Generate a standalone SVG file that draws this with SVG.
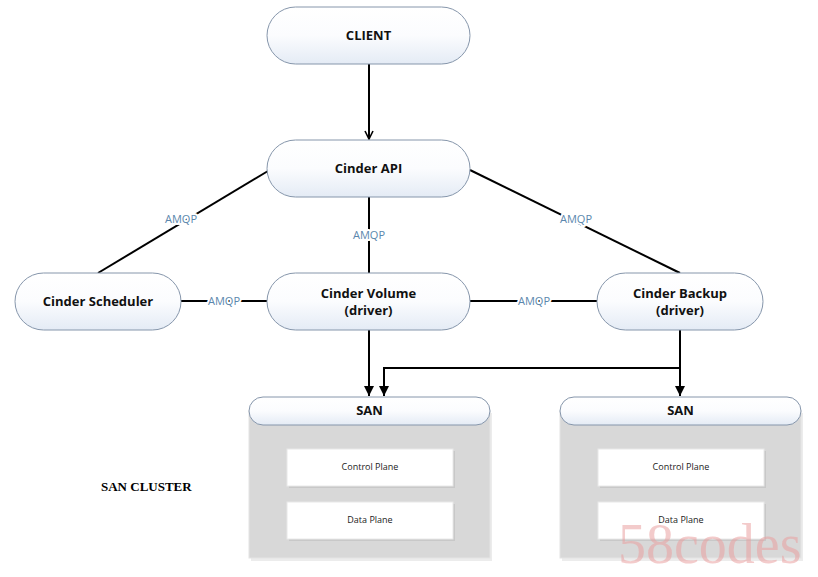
<svg xmlns="http://www.w3.org/2000/svg" width="818" height="577" viewBox="0 0 818 577">
<defs>
<linearGradient id="pill" x1="0" y1="0" x2="0" y2="1">
<stop offset="0" stop-color="#ffffff"/>
<stop offset="0.5" stop-color="#fbfcfe"/>
<stop offset="1" stop-color="#e4ebf5"/>
</linearGradient>
<marker id="arr" viewBox="0 0 10 10" refX="10" refY="5" markerWidth="10" markerHeight="10" markerUnits="userSpaceOnUse" orient="auto">
<path d="M0,0 L10,5 L0,10 z" fill="#000"/>
</marker>
<marker id="open" viewBox="0 0 10 10" refX="9" refY="5" markerWidth="10" markerHeight="10" markerUnits="userSpaceOnUse" orient="auto">
<path d="M1,1 L9,5 L1,9" fill="none" stroke="#000" stroke-width="1.6"/>
</marker>
</defs>
<style>
.node{fill:url(#pill);stroke:#8696ab;stroke-width:1}
.lbl{font-family:"Open Sans","Noto Sans",sans-serif;font-weight:bold;font-size:13px;fill:#111;text-anchor:middle}
.amqp{font-family:"Open Sans","Noto Sans",sans-serif;font-size:11px;fill:#5a87ad;text-anchor:middle;stroke:#fff;stroke-width:4px;paint-order:stroke;stroke-linejoin:round}
.conn{stroke:#000;stroke-width:2;fill:none}
.body{fill:#d8d8d8;stroke:#e4e4e4;stroke-width:1}
.inner{fill:#fff;stroke:#e8e8e8;stroke-width:1}
.small{font-family:"Open Sans","Noto Sans",sans-serif;font-size:9px;fill:#222;text-anchor:middle}
</style>
<rect width="818" height="577" fill="#fff"/>

<g id="connectors">
<line class="conn" x1="369" y1="64" x2="369" y2="139" marker-end="url(#open)"/>
<line class="conn" x1="268" y1="171" x2="98" y2="273"/>
<line class="conn" x1="470" y1="170" x2="680" y2="273"/>
<line class="conn" x1="369" y1="197" x2="369" y2="273"/>
<line class="conn" x1="181" y1="301" x2="267" y2="301"/>
<line class="conn" x1="470" y1="301" x2="597" y2="301"/>
<line class="conn" x1="369" y1="330" x2="369" y2="396" marker-end="url(#arr)"/>
<line class="conn" x1="680" y1="330" x2="680" y2="396" marker-end="url(#arr)"/>
<polyline class="conn" points="680,368 384,368 384,396" marker-end="url(#arr)"/>
<text class="amqp" x="181" y="223">AMQP</text>
<text class="amqp" x="576" y="223">AMQP</text>
<text class="amqp" x="369" y="239">AMQP</text>
<text class="amqp" x="224" y="305">AMQP</text>
<text class="amqp" x="534" y="305">AMQP</text>
</g>

<g id="client">
<rect class="node" x="267" y="7" width="203" height="57" rx="28.5"/>
<text class="lbl" x="368.5" y="40">CLIENT</text>
</g>
<g id="cinder-api">
<rect class="node" x="267" y="140" width="203" height="57" rx="28.5"/>
<text class="lbl" x="368.5" y="173">Cinder API</text>
</g>
<g id="cinder-scheduler">
<rect class="node" x="15" y="273" width="166" height="57" rx="28.5"/>
<text class="lbl" x="98" y="306">Cinder Scheduler</text>
</g>
<g id="cinder-volume">
<rect class="node" x="267" y="273" width="203" height="57" rx="28.5"/>
<text class="lbl" x="368.5" y="298">Cinder Volume</text>
<text class="lbl" x="368.5" y="315">(driver)</text>
</g>
<g id="cinder-backup">
<rect class="node" x="597" y="273" width="166" height="57" rx="28.5"/>
<text class="lbl" x="680" y="298">Cinder Backup</text>
<text class="lbl" x="680" y="315">(driver)</text>
</g>

<g id="san-left">
<rect x="251" y="413" width="241" height="148" fill="#ececec"/>
<rect class="body" x="249" y="411" width="241" height="147"/>
<rect class="node" x="249" y="397" width="241" height="28" rx="14"/>
<text class="lbl" x="369.5" y="415">SAN</text>
<rect x="289" y="451" width="166" height="37" fill="#c8c8c8"/>
<rect class="inner" x="287" y="449" width="166" height="37"/>
<text class="small" x="370" y="470">Control Plane</text>
<rect x="289" y="504" width="166" height="37" fill="#c8c8c8"/>
<rect class="inner" x="287" y="502" width="166" height="37"/>
<text class="small" x="370" y="523">Data Plane</text>
</g>

<g id="san-right">
<rect x="562" y="413" width="241" height="148" fill="#ececec"/>
<rect class="body" x="560" y="411" width="241" height="147"/>
<rect class="node" x="560" y="397" width="241" height="28" rx="14"/>
<text class="lbl" x="680.5" y="415">SAN</text>
<rect x="600" y="451" width="166" height="37" fill="#c8c8c8"/>
<rect class="inner" x="598" y="449" width="166" height="37"/>
<text class="small" x="681" y="470">Control Plane</text>
<rect x="600" y="504" width="166" height="37" fill="#c8c8c8"/>
<rect class="inner" x="598" y="502" width="166" height="37"/>
<text class="small" x="681" y="523">Data Plane</text>
</g>

<text x="101" y="491" font-family="Liberation Serif, serif" font-weight="bold" font-size="13">SAN CLUSTER</text>
<text x="618" y="563" font-family="Liberation Serif, serif" font-size="56" fill="#eaa0a0" fill-opacity="0.55">58codes</text>
</svg>
